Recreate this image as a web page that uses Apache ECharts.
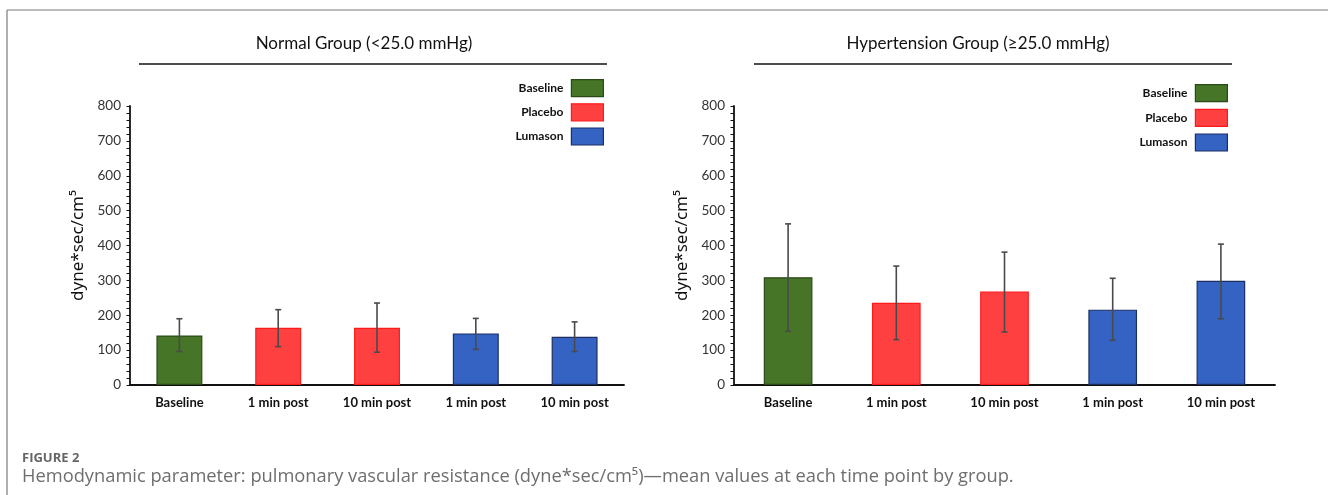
<!DOCTYPE html>
<html>
<head>
<meta charset="utf-8">
<title>Pulmonary vascular resistance</title>
<script src="https://cdn.jsdelivr.net/npm/echarts@6/dist/echarts.min.js"></script>
<style>
  html, body { margin: 0; padding: 0; background: #ffffff; }
  #chart { width: 1328px; height: 495px; }
</style>
</head>
<body>
<div id="chart"></div>
<script>
// time points on the x axis
const categories = ["Baseline", "1 min post", "10 min post", "1 min post", "10 min post"];
// which legend group each bar belongs to
const groupOf = ["Baseline", "Placebo", "Placebo", "Lumason", "Lumason"];
const groups = ["Baseline", "Placebo", "Lumason"];
const yTicks = [0, 100, 200, 300, 400, 500, 600, 700, 800];

// Normal group (<25.0 mmHg)
const normalMean = [142, 164, 164, 148, 138];
const normalLow = [96, 110, 94, 102, 96];
const normalHigh = [190, 216, 235, 191, 181];

// Hypertension group (>=25.0 mmHg)
const hyperMean = [309, 236, 268, 216, 299];
const hyperLow = [154, 130, 152, 128, 190];
const hyperHigh = [462, 341, 381, 306, 404];

const fills = { Baseline: "#467527", Placebo: "#ff4040", Lumason: "#3563c4" };
const borders = { Baseline: "#2b4a19", Placebo: "#ff1a1a", Lumason: "#1c2f63" };

const chart = echarts.init(document.getElementById("chart"));

function barSeries(means, gridIdx, width) {
  return groups.map((g) => ({
    name: g,
    type: "bar",
    stack: "s" + gridIdx,
    xAxisIndex: gridIdx,
    yAxisIndex: gridIdx,
    barWidth: width,
    data: means.map((v, i) => (groupOf[i] === g ? v : "-")),
    itemStyle: { color: fills[g], borderColor: borders[g], borderWidth: 1.2 },
  }));
}

function errorSeries(low, high, gridIdx) {
  return {
    type: "custom",
    xAxisIndex: gridIdx,
    yAxisIndex: gridIdx,
    silent: true,
    z: 5,
    data: low.map((l, i) => [i, l, high[i]]),
    renderItem: (params, api) => {
      const lo = api.coord([api.value(0), api.value(1)]);
      const hi = api.coord([api.value(0), api.value(2)]);
      const cap = 3;
      const st = { stroke: "#4a4a4a", lineWidth: 1.6 };
      return {
        type: "group",
        children: [
          { type: "line", shape: { x1: lo[0], y1: lo[1], x2: hi[0], y2: hi[1] }, style: st },
          { type: "line", shape: { x1: lo[0] - cap, y1: lo[1], x2: lo[0] + cap, y2: lo[1] }, style: st },
          { type: "line", shape: { x1: hi[0] - cap, y1: hi[1], x2: hi[0] + cap, y2: hi[1] }, style: st },
        ],
      };
    },
  };
}

function xAxis(gridIdx) {
  return {
    type: "category",
    gridIndex: gridIdx,
    data: categories,
    axisLine: { lineStyle: { color: "#111", width: 1.8 } },
    axisTick: { show: false },
    axisLabel: {
      interval: 0,
      margin: 11,
      fontFamily: "Lato",
      fontWeight: "bold",
      fontSize: 13,
      color: "#111",
    },
  };
}

function yAxis(gridIdx) {
  return {
    type: "value",
    gridIndex: gridIdx,
    min: yTicks[0],
    max: yTicks[yTicks.length - 1],
    interval: 100,
    name: "dyne*sec/cm⁵",
    nameLocation: "middle",
    nameGap: 43,
    nameTextStyle: { fontFamily: "Noto Sans", fontSize: 17, color: "#111" },
    axisLine: { show: true, lineStyle: { color: "#111", width: 1.8 } },
    axisTick: { show: true, length: 3.5, lineStyle: { color: "#111" } },
    minorTick: { show: true, splitNumber: 5, length: 3.5, lineStyle: { color: "#111" } },
    splitLine: { show: false },
    axisLabel: { margin: 9, fontFamily: "Lato", fontSize: 13.5, color: "#333" },
  };
}

function legend(right, top, gap) {
  return {
    data: groups,
    orient: "vertical",
    right: right,
    top: top,
    padding: 0,
    align: "right",
    icon: "rect",
    itemWidth: 32,
    itemHeight: 17,
    itemGap: gap,
    itemStyle: { borderWidth: 1.2 },
    selectedMode: false,
    textStyle: {
      fontFamily: "Lato",
      fontWeight: "bold",
      fontSize: 12,
      color: "#111",
      width: 46,
      align: "right",
      padding: [0, 3, 0, 0],
    },
  };
}

const option = {
  backgroundColor: "#ffffff",
  animation: false,
  grid: [
    { left: 130, right: 704, top: 106, bottom: 110 },
    { left: 734, right: 53, top: 106, bottom: 110 },
  ],
  xAxis: [xAxis(0), xAxis(1)],
  yAxis: [yAxis(0), yAxis(1)],
  legend: [legend(724, 79, 6), legend(100, 84, 6.5)],
  series: [
    ...barSeries(normalMean, 0, "46.5%"),
    errorSeries(normalLow, normalHigh, 0),
    ...barSeries(hyperMean, 1, "45%"),
    errorSeries(hyperLow, hyperHigh, 1),
  ],
  graphic: [
    // outer frame
    { type: "line", shape: { x1: 7, y1: 10, x2: 1328, y2: 10 }, style: { stroke: "#7a7a7a", lineWidth: 1.2 } },
    { type: "line", shape: { x1: 7, y1: 10, x2: 7, y2: 495 }, style: { stroke: "#7a7a7a", lineWidth: 1.2 } },
    // panel titles with rules
    {
      type: "text", x: 364, y: 44,
      style: { text: "Normal Group (<25.0 mmHg)", textAlign: "center", textVerticalAlign: "middle",
        fontSize: 17, fontFamily: "Lato", fill: "#111" },
    },
    { type: "line", shape: { x1: 139, y1: 64, x2: 607, y2: 64 }, style: { stroke: "#111", lineWidth: 1.6 } },
    {
      type: "text", x: 978, y: 44,
      style: { text: "Hypertension Group (≥25.0 mmHg)", textAlign: "center", textVerticalAlign: "middle",
        fontSize: 17, fontFamily: "Lato", fill: "#111" },
    },
    { type: "line", shape: { x1: 754, y1: 64, x2: 1232, y2: 64 }, style: { stroke: "#111", lineWidth: 1.6 } },
    // figure caption
    {
      type: "text", x: 22, y: 458,
      style: { text: "FIGURE 2", textVerticalAlign: "middle", fontSize: 13, fontWeight: "bold",
        fontFamily: "Open Sans", fill: "#666" },
    },
    {
      type: "text", x: 22, y: 477,
      style: {
        text: "Hemodynamic parameter: pulmonary vascular resistance (dyne*sec/cm⁵)—mean values at each time point by group.",
        textVerticalAlign: "middle", fontSize: 18.3, fontFamily: "Open Sans", fill: "#6e6e6e",
      },
    },
  ],
};

chart.setOption(option);
window.addEventListener("resize", () => chart.resize());
</script>
</body>
</html>
